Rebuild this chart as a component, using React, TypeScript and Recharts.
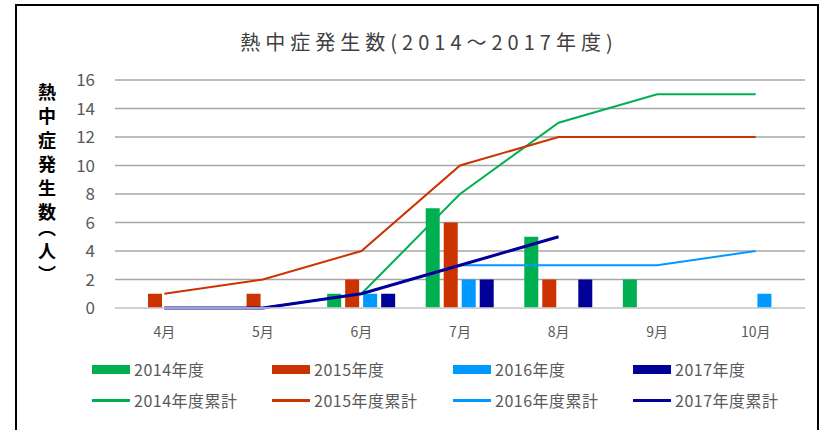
import { ComposedChart, Bar, Line, XAxis, YAxis, CartesianGrid } from "recharts";

const months = ["4月", "5月", "6月", "7月", "8月", "9月", "10月"];
const cases2014 = [null, null, 1, 7, 5, 2, null];
const cases2015 = [1, 1, 2, 6, 2, null, null];
const cases2016 = [null, null, 1, 2, null, null, 1];
const cases2017 = [null, null, 1, 2, 2, null, null];
const total2014 = [0, 0, 1, 8, 13, 15, 15];
const total2015 = [1, 2, 4, 10, 12, 12, 12];
const total2016 = [0, 0, 1, 3, 3, 3, 4];
const total2017 = [0, 0, 1, 3, 5, null, null];
const yTicks = [0, 2, 4, 6, 8, 10, 12, 14, 16];

const title = "熱中症発生数(2014～2017年度)";
const yLabel = "熱中症発生数（人）";

const barSeries = [
  { key: "c2014", name: "2014年度", color: "#00B050" },
  { key: "c2015", name: "2015年度", color: "#CC3300" },
  { key: "c2016", name: "2016年度", color: "#0099FF" },
  { key: "c2017", name: "2017年度", color: "#000099" },
];
const lineSeries = [
  { key: "t2014", name: "2014年度累計", color: "#00B050", width: 2 },
  { key: "t2015", name: "2015年度累計", color: "#CC3300", width: 2 },
  { key: "t2016", name: "2016年度累計", color: "#0099FF", width: 2 },
  { key: "t2017", name: "2017年度累計", color: "#000099", width: 3 },
];

const data = months.map((m, i) => ({
  month: m,
  c2014: cases2014[i],
  c2015: cases2015[i],
  c2016: cases2016[i],
  c2017: cases2017[i],
  t2014: total2014[i],
  t2015: total2015[i],
  t2016: total2016[i],
  t2017: total2017[i],
}));

const FONT = "'Noto Sans CJK JP', 'Noto Sans', sans-serif";
const legendCols = [92, 272, 453, 633];

export default function App() {
  return (
    <div style={{ position: "absolute", left: 0, top: 0, width: 825, height: 430, background: "#fff", overflow: "hidden", fontFamily: FONT }}>
      {/* outer frame, bottom edge is cut off in the original */}
      <div style={{ position: "absolute", left: 15, top: 4, width: 804, height: 450, border: "2px solid #000", boxSizing: "border-box" }} />

      <div style={{ position: "absolute", left: 0, width: 858, top: 28, textAlign: "center", fontSize: 20, letterSpacing: 5, color: "#404040", lineHeight: "28px" }}>
        {title}
      </div>

      {/* vertical axis title; vpal keeps the parens compact */}
      <div style={{ position: "absolute", left: 37, top: 83, width: 20, writingMode: "vertical-rl", fontSize: 18, lineHeight: "20px",
        fontWeight: "bold", letterSpacing: 6, color: "#000", fontFeatureSettings: "'vpal'" }}>
        {yLabel}
      </div>

      <div style={{ position: "absolute", left: 0, top: 0 }}>
        <ComposedChart width={825} height={430} data={data} margin={{ top: 80, right: 20, left: 55, bottom: 92 }} barSize={14} barGap={4}>
          <CartesianGrid vertical={false} stroke="#a6a6a6" strokeWidth={1.5} />
          <XAxis dataKey="month" axisLine={{ stroke: "#d9d9d9", strokeWidth: 1.5 }} tickLine={false} tickMargin={13} height={30}
            tick={{ fill: "#595959", fontSize: 14, fontFamily: FONT }} />
          <YAxis domain={[0, 16]} ticks={yTicks} width={60} axisLine={false} tickLine={false} tickSize={0} tickMargin={20}
            tick={{ fill: "#595959", fontSize: 17, fontFamily: FONT }} />
          {barSeries.map((s) => (
            <Bar key={s.key} dataKey={s.key} name={s.name} fill={s.color} isAnimationActive={false} />
          ))}
          {lineSeries.map((s) => (
            <Line key={s.key} dataKey={s.key} name={s.name} stroke={s.color} strokeWidth={s.width} dot={false} activeDot={false}
              type="linear" isAnimationActive={false} />
          ))}
        </ComposedChart>
      </div>

      {[barSeries, lineSeries].map((row, r) => (
        row.map((s, i) => (
          <div key={s.key} style={{ position: "absolute", left: legendCols[i], top: r === 0 ? 357 : 388, height: 24, display: "flex", alignItems: "center", fontSize: 16, color: "#595959", letterSpacing: 0.5 }}>
            <span style={{ display: "inline-block", width: 38, height: r === 0 ? 9 : 3, background: s.color, marginRight: 4 }} />
            <span>{s.name}</span>
          </div>
        ))
      ))}
    </div>
  );
}
